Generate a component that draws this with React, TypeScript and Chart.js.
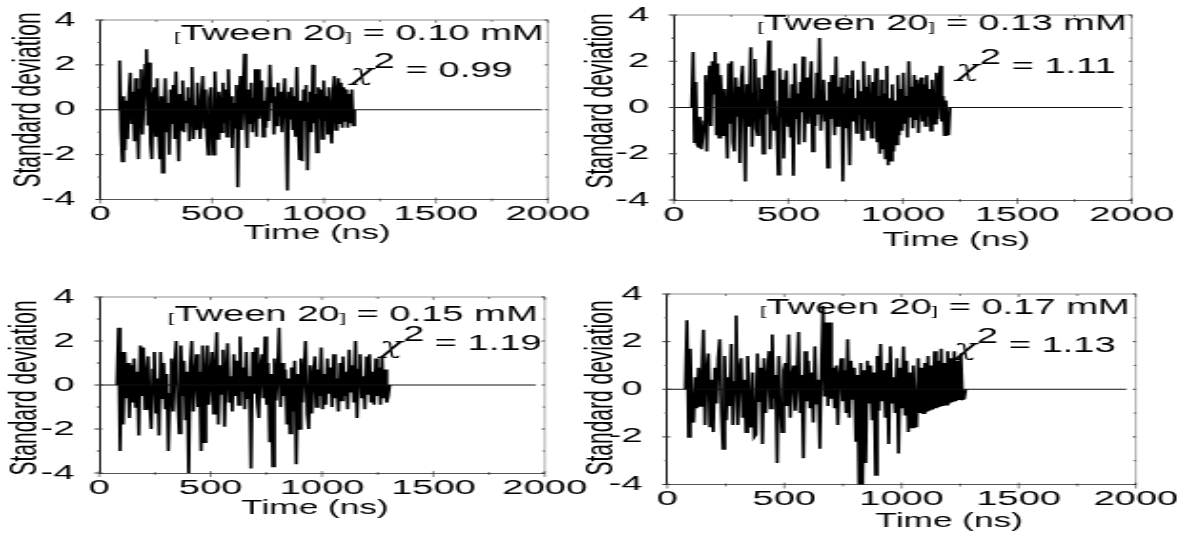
import React, { useEffect, useRef } from "react";
import { Chart, registerables } from "chart.js";

Chart.register(...registerables);

// ---------------- data ----------------
const xTickValues = [0, 500, 1000, 1500, 2000];
const xTickLabels = ["0", "500", "1000", "1500", "2000"];
const yTickValues = [-4, -2, 0, 2, 4];
const yTickLabels = ["-4", "-2", "0", "2", "4"];
const xAxisTitle = "Time (ns)";
const yAxisTitle = "Standard deviation";
const tweenConcentrations = ["0.10", "0.13", "0.15", "0.17"];
const chiSquaredValues = ["0.99", "1.11", "1.19", "1.13"];
const residualStartNs = [80, 78, 79, 77];
const residualStepNs = [6, 6, 7, 7];
const baselineEndNs = [1975, 1960, 1960, 1960];

const residuals010 = [
  0,
  2.2, -0.9, -2.3, 0.6, -1.8, 0.4, -1.3, 0.7, 1.65, -0.6,
  0.8, -1.4, 1.4, -0.5, -2.2, 0.9, 1.8, -1.1, 0.3, 2.0,
  2.7, -0.7, 2.1, -1.5, -2.2, 0.5, 1.0, -1.2, 1.4, -0.8,
  -2.2, 0.6, -2.8, -0.4, 1.4, -1.0, 0.3, -2.0, 0.9, -0.6,
  1.1, -1.3, 1.7, -0.5, -2.3, 0.7, -0.9, 1.3, -1.0, 0.4,
  -0.6, 1.0, -1.4, 0.5, 1.9, -1.3, 0.2, -0.9, 1.2, -0.4,
  -1.3, 0.6, 1.5, -0.8, 0.9, -1.1, -2.0, 0.5, 1.0, -0.7,
  -2.0, 1.7, -0.5, -1.3, 0.8, 0.3, -1.0, 1.2, -0.6, 0.9,
  -1.2, 1.8, -0.4, 0.6, -1.7, 0.3, -0.8, 1.1, -3.45, 0.2,
  1.5, -0.9, 0.7, 2.5, -0.3, -1.7, 0.9, -0.6, 1.2, -1.0,
  0.5, 1.8, -1.2, 1.8, -0.4, 0.7, 1.3, -1.2, 0.4, -0.8,
  1.0, -0.5, 2.0, 0.3, 1.0, -1.1, 0.6, -0.7, 1.2, -0.3,
  0.8, -1.0, 0.5, 1.4, -0.6, -3.6, 0.8, -0.4, 1.0, -0.9,
  0.6, -1.2, 1.9, -0.7, -2.2, 0.4, -2.3, 0.9, -0.5, 1.1,
  -2.7, 0.3, 0.8, -1.0, 2.0, -0.6, 0.7, -1.9, 1.0, -0.4,
  0.9, -1.3, 1.3, -0.5, 0.6, -1.1, 1.0, -0.7, -1.5, 0.8,
  1.5, -0.9, 0.4, 1.4, -0.6, 1.2, -0.8, 1.0, -0.5, 0.9,
  -0.8, 0.7, -0.6, 0.9, -0.7,
  0,
];

const residuals013 = [
  0,
  2.4, -1.5, 1.1, -1.6, -1.7, -0.4, -1.8, -1.3, -0.6, 1.4,
  -1.9, 0.5, 1.8, -0.8, 2.0, 0.6, 2.4, -1.2, 1.9, -1.3,
  1.4, 0.2, -1.2, 0.8, -0.5, -2.2, 1.9, -0.7, 2.0, -1.5,
  -1.9, 1.3, -0.4, 0.9, -2.4, 1.1, 1.8, -0.6, -3.2, 1.0,
  -0.8, 0.4, 2.6, -1.7, 0.6, 2.1, -0.9, -1.2, 1.3, -0.5,
  0.8, -2.0, 1.4, -0.3, 0.9, 2.9, -1.8, 0.5, 1.6, -1.0,
  0.3, -0.9, -2.9, 1.7, -0.4, 1.2, -2.2, 0.7, 1.6, -0.8,
  0.4, -1.3, 1.0, -2.95, 1.9, -0.5, 0.6, -1.6, 1.1, -0.2,
  2.2, -1.5, 0.5, 1.3, -0.7, 0.8, 2.0, -1.9, 0.4, -0.8,
  1.5, -0.3, 3.0, -1.0, 0.7, 1.2, -0.6, 0.3, -2.6, 1.1,
  -0.5, 1.4, 0.2, -1.2, 2.2, -0.8, 0.9, -0.3, 1.3, -3.2,
  0.6, -0.9, 1.4, -0.4, -2.5, 0.8, 1.6, -0.6, 0.4, -1.1,
  1.2, -0.3, 0.7, -1.4, 2.0, -0.5, 0.9, -1.0, 1.4, 0.1,
  -1.3, 1.1, -0.6, 1.7, -1.5, 0.5, -2.0, 1.2, -1.8, 0.6,
  -2.2, 1.8, -2.5, 0.4, -2.3, 1.0, -1.9, 0.3, -1.6, 1.4,
  -1.2, 0.8, -1.0, 1.5, -0.7, 0.5, -1.3, 2.0, -0.4, 0.9,
  -0.9, 1.4, -0.5, 1.2, -1.1, 0.7, 1.3, -0.6, 1.0, -0.8,
  1.4, -0.4, 0.8, -1.0, 1.2, 0.3, -0.7, 1.5, -0.5, 0.9,
  1.8, -0.6, 0.5, -1.2, 0.3, -0.9, -1.2,
  0,
];

const residuals015 = [
  0,
  2.6, -3.0, 1.5, -1.8, 1.5, -0.6, 1.0, -1.5, 0.9, -0.8,
  1.2, -1.0, 0.6, -2.3, 1.8, -0.5, 1.7, -1.1, 0.4, 1.3,
  -0.9, -2.0, 0.7, 1.5, -1.3, 0.3, -2.3, 1.5, -0.6, 1.0,
  -1.1, 0.5, -3.0, -0.4, 1.2, -1.2, 0.8, 2.0, -0.7, -2.2,
  1.8, -0.5, 1.1, -1.6, 0.6, -4.2, 0.9, 2.0, -1.2, 0.4,
  1.4, -1.0, 0.6, -3.0, 1.8, -2.6, 0.5, 1.8, -0.9, 0.3,
  1.5, -1.3, 0.7, 2.4, -1.8, 0.9, -0.4, 1.6, -1.9, 0.6,
  1.9, -0.8, 0.4, -1.2, 1.4, -0.5, 1.1, -0.9, 2.2, -0.3,
  0.8, -1.1, 1.5, -0.6, 0.4, -3.8, 1.5, -0.4, 1.7, -0.8,
  -1.5, 0.9, 1.4, -0.6, 2.2, -0.9, 1.0, -2.6, 0.5, -3.7,
  1.2, -0.7, 0.4, 2.6, -1.0, 1.0, -0.5, 0.7, -1.8, 0.3,
  -2.2, 0.8, -1.2, 1.1, -3.6, 0.5, -2.0, 1.2, -0.8, 0.6,
  2.0, -1.3, -2.0, 0.9, -1.3, 0.4, 1.3, -1.0, 0.7, -0.5,
  1.7, -1.1, 0.5, -0.9, 1.2, -0.4, 0.8, -1.0, 1.4, -0.6,
  0.3, -1.2, 1.0, -0.7, 1.3, -0.5, 0.6, -1.1, 1.6, -0.3,
  0.9, -0.8, 2.0, -1.5, 0.7, 1.4, -0.6, 0.4, -1.1, 1.3,
  -0.4, 1.4, -0.8, 0.6, -0.9, 1.2, -0.5, 0.8, -0.9, 1.3,
  -0.6, 0.7, -0.8, -0.5,
  0,
];

const residuals017 = [
  0,
  2.9, -2.0, 1.7, -1.2, -1.4, 0.5, -0.8, 0.9, -0.7, 0.6,
  2.5, -1.5, 0.8, 1.5, -1.6, 0.4, -1.8, 0.9, -0.6, 1.3,
  2.1, -0.9, -2.5, 1.4, -1.3, 0.5, -0.7, 1.9, -1.5, 0.3,
  3.1, -1.5, 0.8, 1.3, -1.2, 0.4, -1.8, 1.4, -0.6, -1.6,
  0.7, -2.0, -1.9, 1.5, -0.5, 0.9, -2.3, 1.3, -1.0, 0.5,
  1.6, -0.8, 2.3, -0.4, 0.6, -3.1, 1.4, -0.6, -1.8, 0.8,
  1.1, -0.7, 2.3, -1.2, 0.5, 1.0, -0.9, 0.3, 2.4, -1.0,
  0.6, -2.9, 1.6, -0.5, 1.2, -0.8, 0.7, -1.4, 1.8, -0.6,
  0.4, -2.5, 1.0, 3.5, -0.3, 2.8, -0.7, 2.8, -0.4, 0.9,
  -0.8, 1.0, -1.5, 0.6, 1.3, -0.5, 0.8, -1.0, 2.1, -1.2,
  1.2, -0.4, 0.9, -2.2, 0.6, -4.5, 1.1, -4.5, 0.8, -3.1,
  1.2, -0.6, 1.0, -1.3, 0.7, -3.6, 1.4, -0.9, 1.9, -0.5,
  0.8, -1.2, 1.1, -2.3, 1.8, -0.6, 0.5, -1.0, 1.3, -2.7,
  0.9, -0.8, 1.8, -1.1, 1.2, -1.8, 0.7, -1.6, 1.0, -0.9,
  -1.6, 1.3, -1.0, 0.9, -1.0, 1.1, -0.95, 1.4, -0.9, 1.0,
  -0.85, 1.6, -0.8, 1.2, -0.75, 1.7, -0.7, 1.1, -0.65, 1.6,
  -0.6, 1.3, -0.55, 1.6, -0.5, 1.2, -0.45, 1.5, -0.42, -0.4,
  0,
];

const residualSeries = [residuals010, residuals013, residuals015, residuals017];

// ---------------- layout / style ----------------
const SX = 1.9; // horizontal stretch of the figure
const FONT = '"Liberation Sans", Arial, Helvetica, sans-serif';
const CHI_FONT = '"DejaVu Serif", "Liberation Serif", serif';

type PanelLayout = {
  x0: number; y0: number; w: number; h: number;
  L: number; R: number; T: number; B: number;
  xTitle: [number, number]; yTitle: [number, number];
  line1: [number, number]; line2: [number, number];
};

const layouts: PanelLayout[] = [
  { x0: 0, y0: 0, w: 600, h: 265, L: 100, R: 546, T: 20, B: 199.5,
    xTitle: [316, 233], yTitle: [29, 100], line1: [542, 32], line2: [511, 69] },
  { x0: 578, y0: 0, w: 607, h: 265, L: 673.5, R: 1130, T: 15, B: 200,
    xTitle: [955, 240], yTitle: [601, 101], line1: [1125, 22.5], line2: [1114, 65] },
  { x0: 0, y0: 265, w: 600, h: 270, L: 99, R: 543, T: 297, B: 473,
    xTitle: [314, 508], yTitle: [25, 388], line1: [536, 313], line2: [540, 342] },
  { x0: 578, y0: 265, w: 607, h: 270, L: 667, R: 1134, T: 294, B: 484.5,
    xTitle: [948, 521], yTitle: [601, 388], line1: [1128, 306], line2: [1114, 344] },
];

function makeDecor(idx: number, p: PanelLayout) {
  return {
    id: "decor" + idx,
    afterDraw(chart: any) {
      const ctx: CanvasRenderingContext2D = chart.ctx;
      const { left, right, top, bottom } = chart.chartArea;
      const xs = chart.scales.x;
      const ys = chart.scales.y;
      ctx.save();
      // frame: top and right
      ctx.strokeStyle = "#8c8c8c";
      ctx.lineWidth = 1;
      ctx.beginPath();
      ctx.moveTo(left, top);
      ctx.lineTo(right, top);
      ctx.stroke();
      ctx.lineWidth = 0.7;
      ctx.beginPath();
      ctx.moveTo(right, top);
      ctx.lineTo(right, bottom);
      ctx.stroke();
      // y ticks
      ctx.strokeStyle = "#333";
      ctx.lineWidth = 1;
      for (let v = -4; v <= 4; v += 1) {
        const y = ys.getPixelForValue(v);
        const major = v % 2 === 0;
        ctx.beginPath();
        ctx.moveTo(left - (major ? 5 : 2.5) / SX, y);
        ctx.lineTo(left + (major ? 3 : 0) / SX, y);
        ctx.moveTo(right - (major ? 3 : 2) / SX, y);
        ctx.lineTo(right, y);
        ctx.stroke();
      }
      // x ticks
      ctx.lineWidth = 0.6;
      for (let v = 0; v <= 2000; v += 250) {
        const x = xs.getPixelForValue(v);
        const major = v % 500 === 0;
        ctx.beginPath();
        ctx.moveTo(x, bottom - (major ? 2 : 1));
        ctx.lineTo(x, bottom + (major ? 4 : 2));
        ctx.moveTo(x, top);
        ctx.lineTo(x, top + (major ? 3 : 2));
        ctx.stroke();
      }
      ctx.fillStyle = "#000";
      // x title (slightly condensed relative to the stretch)
      ctx.save();
      ctx.translate((p.xTitle[0] - p.x0) / SX, p.xTitle[1] - p.y0);
      ctx.scale(0.88, 1);
      ctx.font = `21px ${FONT}`;
      ctx.textAlign = "center";
      ctx.textBaseline = "middle";
      ctx.fillText(xAxisTitle, 0, 0);
      ctx.restore();
      // y title
      ctx.save();
      ctx.translate((p.yTitle[0] - p.x0) / SX, p.yTitle[1] - p.y0);
      ctx.rotate(-Math.PI / 2);
      ctx.font = `21px ${FONT}`;
      ctx.textAlign = "center";
      ctx.textBaseline = "middle";
      ctx.fillText(yAxisTitle, 0, 0);
      ctx.restore();
      // annotation
      ctx.textAlign = "left";
      ctx.textBaseline = "alphabetic";
      const HS = 0.93; // horizontal condensing of annotation text
      const drawParts = (parts: [string, string, number][], rightX: number, baseY: number) => {
        let total = 0;
        const widths = parts.map(([t, f]) => {
          ctx.font = f;
          const w = ctx.measureText(t).width * HS;
          total += w;
          return w;
        });
        let x = (rightX - p.x0) / SX - total;
        parts.forEach(([t, f, dy], i) => {
          ctx.save();
          ctx.translate(x, baseY - p.y0 + dy);
          ctx.scale(HS, 1);
          ctx.font = f;
          ctx.fillText(t, 0, 0);
          ctx.restore();
          x += widths[i];
        });
      };
      const big = `21.5px ${FONT}`;
      const small = `13px ${FONT}`;
      drawParts(
        [["[", small, 1], ["Tween 20", big, 0], ["]", small, 1], [" = " + tweenConcentrations[idx] + " mM", big, 0]],
        p.line1[0], p.line1[1] + 7.5
      );
      drawParts(
        [["\u03c7", `italic 22px ${CHI_FONT}`, 3], ["2", big, -8.5], [" = " + chiSquaredValues[idx], big, 0]],
        p.line2[0], p.line2[1] + 7.5
      );
      ctx.restore();
    },
  };
}

function Panel({ idx }: { idx: number }) {
  const ref = useRef<HTMLCanvasElement | null>(null);
  const p = layouts[idx];
  const wPre = p.w / SX;
  const Lc = (p.L - p.x0) / SX;
  const Rc = (p.R - p.x0) / SX;
  const Tc = p.T - p.y0;
  const Bc = p.B - p.y0;

  useEffect(() => {
    if (!ref.current) return;
    const values = residualSeries[idx];
    const start = residualStartNs[idx];
    const step = residualStepNs[idx];
    const residualPoints = values.map((y, i) => ({ x: start + i * step, y }));
    const baseline = [{ x: 0, y: 0 }, { x: baselineEndNs[idx], y: 0 }];
    const tickFont = { family: FONT, size: 20 };
    const chart = new Chart(ref.current, {
      type: "line",
      data: {
        datasets: [
          { data: baseline, borderColor: "#111", borderWidth: 1, pointRadius: 0, tension: 0 },
          { data: residualPoints, borderColor: "#000", borderWidth: 1.7, pointRadius: 0, tension: 0 },
        ],
      },
      options: {
        animation: false,
        responsive: true,
        maintainAspectRatio: false,
        events: [],
        layout: { padding: { left: 0, top: Tc, right: wPre - Rc, bottom: 0 } },
        plugins: { legend: { display: false }, tooltip: { enabled: false } },
        scales: {
          x: {
            type: "linear",
            min: 0,
            max: 2000,
            ticks: {
              stepSize: 500,
              autoSkip: false,
              maxRotation: 0,
              padding: -5,
              color: "#000",
              font: tickFont,
              callback: (v: any) => xTickLabels[xTickValues.indexOf(Number(v))] ?? "",
            },
            grid: { display: false },
            border: { display: true, color: "#555", width: 1 },
            afterFit: (s: any) => {
              s.height = p.h - Bc;
              s.paddingLeft = 0;
              s.paddingRight = 0;
            },
          },
          y: {
            type: "linear",
            min: -4,
            max: 4,
            ticks: {
              stepSize: 2,
              padding: 5,
              color: "#000",
              font: tickFont,
              callback: (v: any) => yTickLabels[yTickValues.indexOf(Number(v))] ?? "",
            },
            grid: { display: false },
            border: { display: true, color: "#111", width: 1 },
            afterFit: (s: any) => {
              s.width = Lc;
              s.paddingTop = 0;
              s.paddingBottom = 0;
            },
          },
        },
      },
      plugins: [makeDecor(idx, p)],
    } as any);
    return () => chart.destroy();
  }, [idx]);

  return (
    <div
      style={{
        position: "absolute",
        left: p.x0,
        top: p.y0,
        width: wPre,
        height: p.h,
        transform: `scaleX(${SX})`,
        transformOrigin: "0 0",
      }}
    >
      <canvas ref={ref} />
    </div>
  );
}

export default function App() {
  return (
    <div
      style={{
        position: "absolute",
        left: 0,
        top: 0,
        width: 1185,
        height: 535,
        background: "#fff",
        overflow: "hidden",
      }}
    >
      {[0, 1, 2, 3].map((i) => (
        <Panel key={i} idx={i} />
      ))}
    </div>
  );
}
